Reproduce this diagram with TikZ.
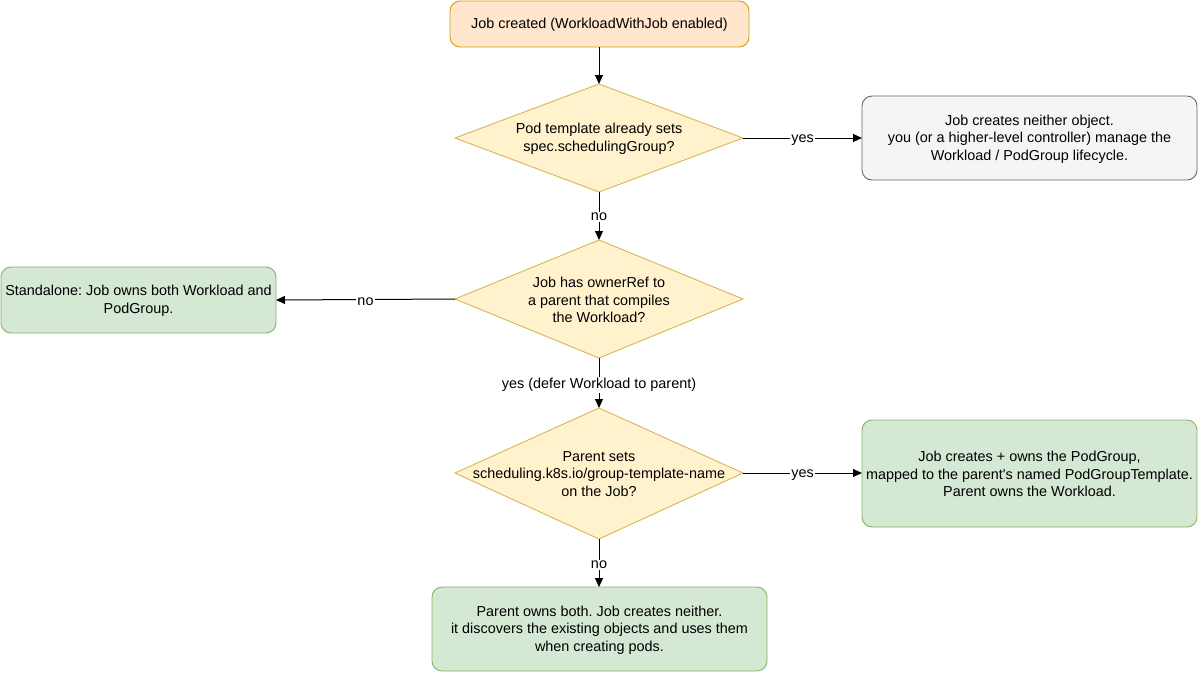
\documentclass[tikz,border=0pt]{standalone}
\usepackage{fontspec}
\setmainfont{Liberation Sans}[Ligatures=TeXOff]
\usetikzlibrary{arrows.meta,shapes.geometric}
\frenchspacing
\definecolor{orfill}{HTML}{FFE6CC}
\definecolor{ordraw}{HTML}{D79B00}
\definecolor{yefill}{HTML}{FFF2CC}
\definecolor{yedraw}{HTML}{D6B656}
\definecolor{grfill}{HTML}{D5E8D4}
\definecolor{grdraw}{HTML}{82B366}
\definecolor{gyfill}{HTML}{F5F5F5}
\definecolor{gydraw}{HTML}{666666}
\tikzset{
  txt/.style={font=\fontsize{14.4}{17.5}\selectfont, align=center},
  boxnode/.style={txt, rounded corners=10pt, line width=0.9pt, inner sep=0pt},
  decnode/.style={txt, inner sep=0pt},
  conn/.style={line width=1pt, -{Triangle[length=9pt,width=8pt]}},
  lbl/.style={font=\fontsize{14.4}{17.5}\selectfont, fill=white, inner sep=1pt, yshift=-2pt},
}
\begin{document}
\begin{tikzpicture}[x=1pt,y=-1pt]
\useasboundingbox (0,0) rectangle (1200,673);
% boxes
\draw[boxnode, fill=orfill, draw=ordraw] (450,1) rectangle (749,47);
\node[txt] (start) at (599.5,25) {Job created (WorkloadWithJob enabled)};
\coordinate (startb) at (599,47);

\draw[line width=0.9pt, fill=yefill, draw=yedraw] (455,138) -- (599,84) -- (743,138) -- (599,192) -- cycle;
\node[decnode] (d1) at (599,139) {Pod template already sets\\spec.schedulingGroup?};
\coordinate (d1t) at (599,84);\coordinate (d1r) at (743,138);\coordinate (d1b) at (599,192);

\draw[boxnode, fill=gyfill, draw=gydraw] (862,96) rectangle (1197,180);
\node[txt] (b2) at (1029.5,139) {Job creates neither object.\\you (or a higher-level controller) manage the\\Workload / PodGroup lifecycle.};
\coordinate (b2l) at (862,138);

\draw[line width=0.9pt, fill=yefill, draw=yedraw] (455,299) -- (599,240) -- (743,299) -- (599,358) -- cycle;
\node[decnode] (d2) at (599,300) {Job has ownerRef to\\a parent that compiles\\the Workload?};
\coordinate (d2t) at (599,240);\coordinate (d2l) at (455,299);\coordinate (d2b) at (599,358);

\draw[boxnode, fill=grfill, draw=grdraw] (1,267) rectangle (276,333);
\node[txt] (b3) at (138.5,301) {Standalone: Job owns both Workload and\\PodGroup.};
\coordinate (b3r) at (276,300);

\draw[line width=0.9pt, fill=yefill, draw=yedraw] (455,473) -- (599,408) -- (743,473) -- (599,539) -- cycle;
\node[decnode] (d3) at (599,474) {Parent sets\\scheduling.k8s.io/group-template-name\\on the Job?};
\coordinate (d3t) at (599,408);\coordinate (d3r) at (743,473);\coordinate (d3b) at (599,539);

\draw[boxnode, fill=grfill, draw=grdraw] (862,420) rectangle (1197,527);
\node[txt] (b4) at (1029.5,474) {Job creates + owns the PodGroup,\\mapped to the parent's named PodGroupTemplate.\\Parent owns the Workload.};
\coordinate (b4l) at (862,473);

\draw[boxnode, fill=grfill, draw=grdraw] (432,587) rectangle (767,671);
\node[txt] (b5) at (599.5,630) {Parent owns both. Job creates neither.\\it discovers the existing objects and uses them\\when creating pods.};
\coordinate (b5t) at (599,587);

% connectors
\draw[conn] (startb) -- (d1t);
\draw[conn] (d1r) -- node[lbl] {yes} (b2l);
\draw[conn] (d1b) -- node[lbl, pos=0.48] {no} (d2t);
\draw[conn] (d2l) -- node[lbl] {no} (b3r);
\draw[conn] (d2b) -- node[lbl, pos=0.5] {yes (defer Workload to parent)} (d3t);
\draw[conn] (d3r) -- node[lbl] {yes} (b4l);
\draw[conn] (d3b) -- node[lbl, pos=0.5] {no} (b5t);
\end{tikzpicture}
\end{document}
